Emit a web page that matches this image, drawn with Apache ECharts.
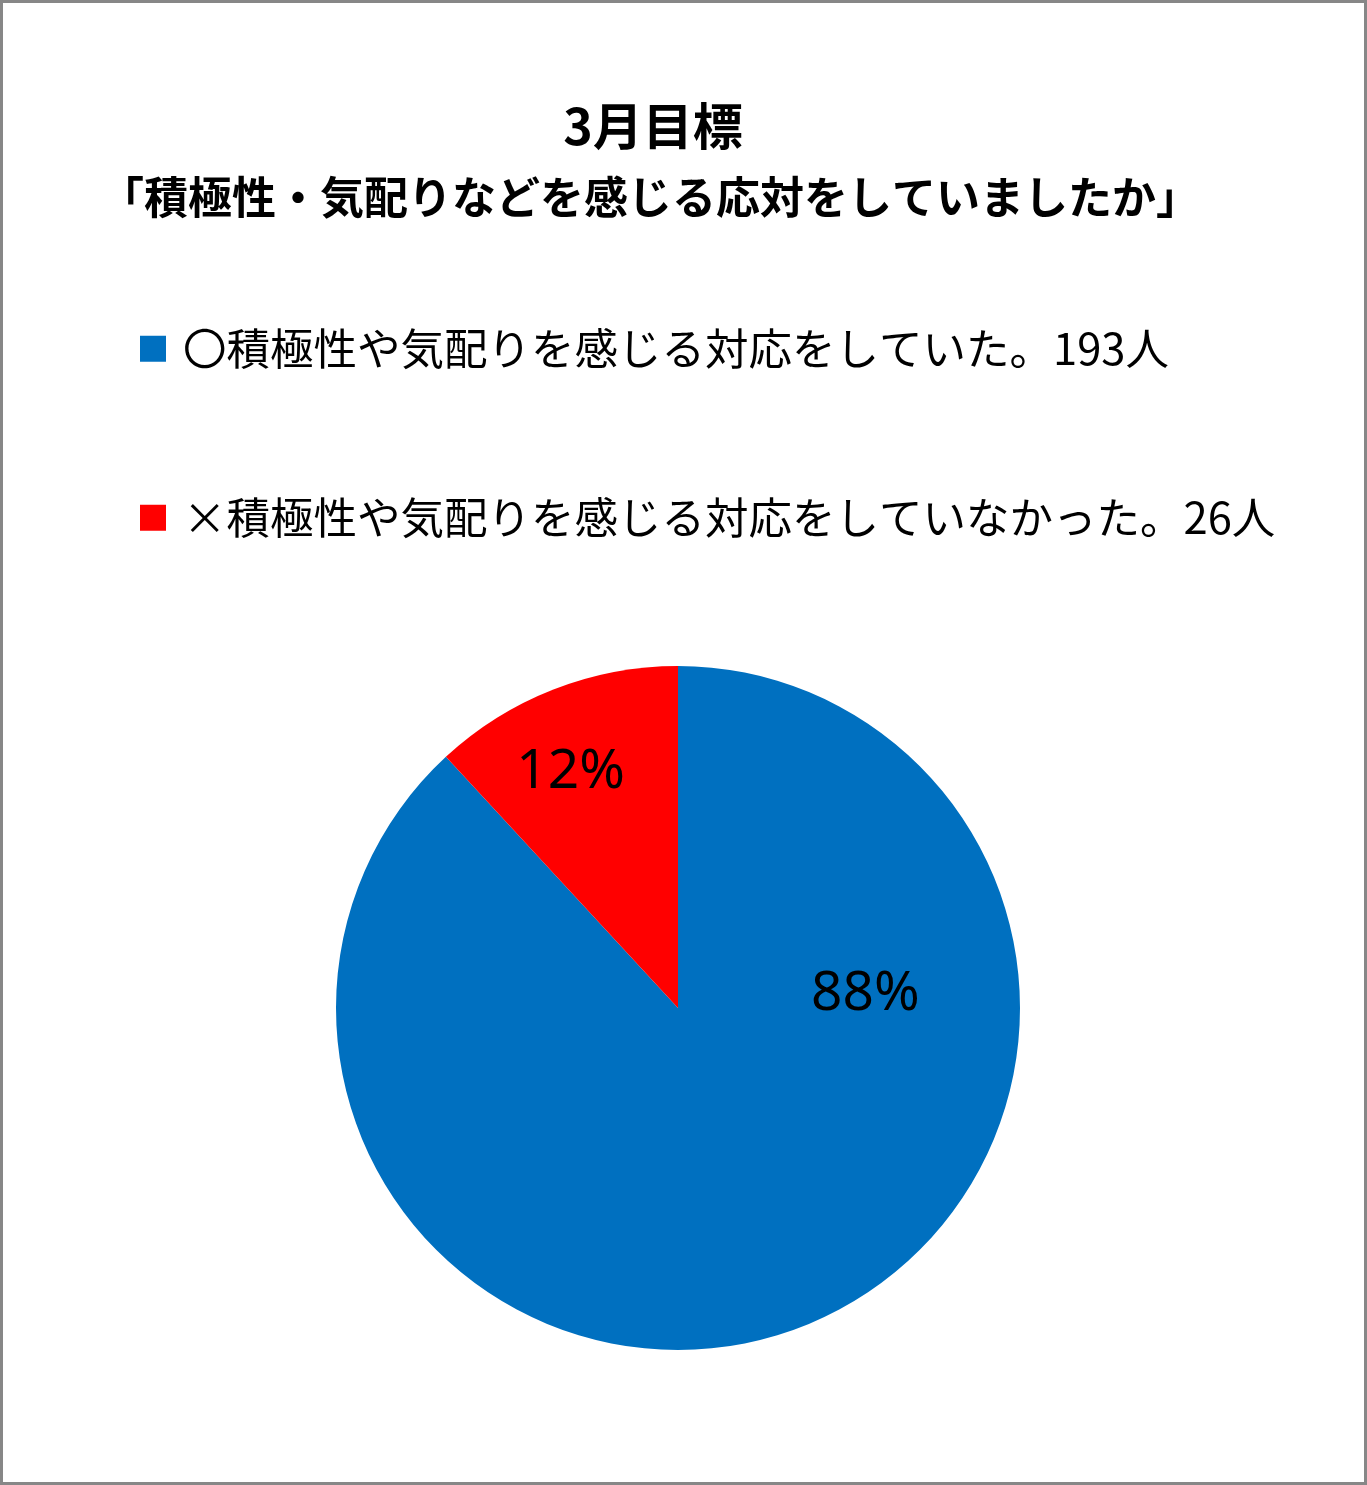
<!DOCTYPE html>
<html>
<head>
<meta charset="utf-8">
<script src="https://cdn.jsdelivr.net/npm/echarts@6/dist/echarts.min.js"></script>
<style>
  html, body { margin: 0; padding: 0; background: #fff; }
  #chart { width: 1367px; height: 1485px; }
</style>
</head>
<body>
<div id="chart"></div>
<script>
window.addEventListener("load", () => {
    // データ
    const titleText = "3月目標"
    const subTitleText = "「積極性・気配りなどを感じる応対をしていましたか」"
    const categories = [
        "〇積極性や気配りを感じる対応をしていた。",
        "×積極性や気配りを感じる対応をしていなかった。"
    ]
    const counts = [193, 26]
    const colors = ["#0070C0", "#FF0000"]
    // ラベル位置の微調整(Excelの配置に合わせる)
    const labelOffsets = [[124, -176], [-44, -74]]

    const jpFont = '"Noto Sans CJK JP", "Noto Sans", sans-serif'

    let option = {
        backgroundColor: "#fff",
        animation: false,
        title: [
            {
                text: titleText,
                left: 648,
                top: 96,
                textAlign: "center",
                textStyle: { fontFamily: jpFont, fontSize: 50, fontWeight: "bold", color: "#000" }
            },
            {
                text: subTitleText,
                left: 645,
                top: 170,
                textAlign: "center",
                textStyle: { fontFamily: jpFont, fontSize: 44, fontWeight: "bold", color: "#000" }
            }
        ],
        legend: categories.map((name, i) => ({
            data: [name],
            left: 140,
            top: i === 0 ? 327 : 496,
            padding: 0,
            orient: "vertical",
            itemWidth: 26,
            itemHeight: 26,
            icon: "rect",
            selectedMode: false,
            formatter: n => n + counts[categories.indexOf(n)] + "人",
            textStyle: { fontFamily: jpFont, fontSize: 43.5, color: "#000", padding: [0, 0, 0, 12] }
        })),
        graphic: [{
            type: "rect",
            shape: { x: 1.5, y: 1.5, width: 1364, height: 1482 },
            style: { fill: "none", stroke: "#878787", lineWidth: 3 },
            silent: true
        }],
        series: [{
            type: "pie",
            center: [678, 1008],
            radius: 342,
            startAngle: 90,
            clockwise: true,
            avoidLabelOverlap: false,
            emphasis: { disabled: true },
            label: {
                show: true,
                position: "inside",
                formatter: p => Math.round(p.percent) + "%",
                fontFamily: '"Noto Sans", "Open Sans", sans-serif',
                fontSize: 55,
                color: "#000"
            },
            labelLine: { show: false },
            data: categories.map((name, i) => ({
                name: name,
                value: counts[i],
                itemStyle: { color: colors[i] },
                label: { offset: labelOffsets[i] }
            }))
        }]
    };

    echarts.init(document.getElementById("chart")).setOption(option);
})
</script>
</body>
</html>
